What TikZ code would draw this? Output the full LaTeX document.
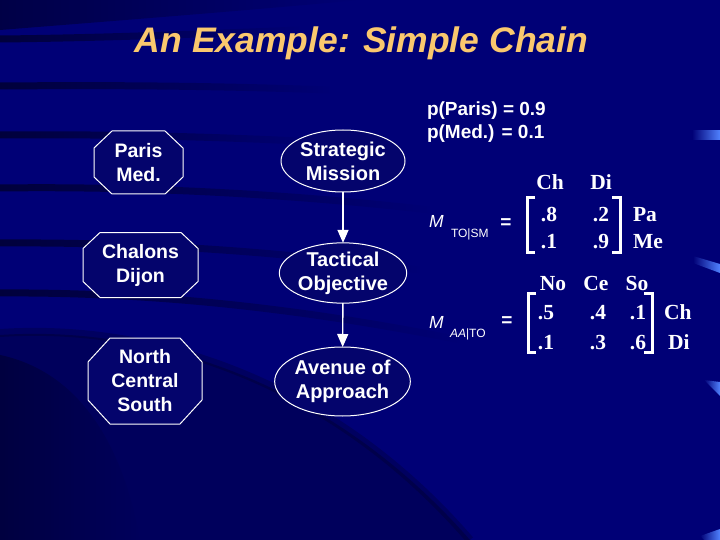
\documentclass[tikz,border=0pt]{standalone}
\usepackage{fontspec}
\newfontfamily\arialf{Liberation Sans}
\newfontfamily\timesf{Liberation Serif}
\usetikzlibrary{arrows.meta,shapes.geometric,fadings,calc}
\definecolor{bgc}{RGB}{0,0,118}
\definecolor{nodefill}{RGB}{4,4,108}
\definecolor{titlec}{RGB}{250,200,110}
\definecolor{streakc}{RGB}{80,130,255}
\pgfdeclarelayer{bglayer}
\pgfdeclarelayer{midlayer}
\pgfsetlayers{bglayer,midlayer,main}
\newcommand\octshape[3]{%
  \draw[octline] ($(#1.north west)+(#2,0)$) -- ($(#1.north east)+(-#2,0)$)
    -- ($(#1.north east)+(0,#3)$) -- ($(#1.south east)+(0,-#3)$)
    -- ($(#1.south east)+(-#2,0)$) -- ($(#1.south west)+(#2,0)$)
    -- ($(#1.south west)+(0,-#3)$) -- ($(#1.north west)+(0,#3)$) -- cycle;}
\begin{document}
\begin{tikzpicture}[x=1pt,y=-1pt,
  every node/.style={inner sep=0pt,outer sep=0pt},
  octn/.style={rectangle,text=white,align=center,font=\arialf\bfseries\fontsize{19.5}{24}\selectfont},
  octline/.style={draw=white,line width=1pt,fill=nodefill},
  ell/.style={ellipse,draw=white,line width=1pt,fill=nodefill,text=white,align=center,font=\arialf\bfseries\fontsize{20}{24}\selectfont},
  arr/.style={draw=white,line width=1.4pt,-{Triangle[width=11pt,length=13pt]}},
  lbl/.style={text=white,font=\arialf\bfseries\fontsize{19}{22}\selectfont,anchor=base west},
  mlbl/.style={text=white,font=\arialf\fontsize{17.5}{20}\selectfont,anchor=base west},
  msub/.style={text=white,font=\arialf\fontsize{12}{14}\selectfont,anchor=base west},
  eqs/.style={text=white,font=\arialf\bfseries\fontsize{19}{20}\selectfont},
  mat/.style={text=white,font=\timesf\bfseries\fontsize{21.5}{24}\selectfont,anchor=base},
  matl/.style={text=white,font=\timesf\bfseries\fontsize{21.5}{24}\selectfont,anchor=base west},
  brk/.style={draw=white,line width=3pt},
  streak/.style={black,line width=7pt,opacity=0.5,path fading=east},
]
\path[use as bounding box] (0,0) rectangle (720,540);
\begin{pgfonlayer}{bglayer}
  \fill[bgc] (0,0) rectangle (720,540);
  % dark swooshes
  \fill[black,opacity=0.4,path fading=east] (0,0) -- (360,0) .. controls (230,12) and (100,22) .. (0,30) -- cycle;
  \draw[streak] (0,39) .. controls (100,38) and (200,34) .. (300,30);
  \draw[streak] (0,86) .. controls (120,85) and (220,86) .. (330,90);
  \draw[streak] (0,135) .. controls (120,134) and (220,137) .. (320,142);
  \draw[streak] (0,188) .. controls (150,186) and (300,195) .. (430,210);
  \draw[streak] (0,243) .. controls (150,242) and (280,252) .. (420,270);
  \draw[streak] (0,293) .. controls (150,292) and (300,308) .. (460,340);
  \fill[black,opacity=0.22] (0,335) .. controls (150,325) and (330,380) .. (470,540) -- (0,540) -- cycle;
  \draw[black,line width=8pt,opacity=0.18] (0,333) .. controls (150,323) and (330,378) .. (470,540);
  \fill[black,opacity=0.3,path fading=east] (0,355) .. controls (70,370) and (120,430) .. (140,540) -- (0,540) -- cycle;
  % light streaks at right edge
  \shade[left color=bgc,right color=streakc] (692,131) rectangle (720,140);
  \shade[left color=bgc,right color=streakc] (693,256) -- (720,264) -- (720,273) -- (693,263) -- cycle;
  \shade[left color=bgc,right color=streakc] (704,380) -- (720,382) -- (720,396) -- cycle;
  \shade[left color=bgc,right color=streakc] (700,536) -- (720,529) -- (720,540) -- (704,540) -- cycle;
\end{pgfonlayer}

% title
\node[text=titlec,font=\arialf\bfseries\itshape\fontsize{35.5}{40}\selectfont,anchor=base] (title) at (361.5,52.5) {An Example: Simple Chain};

% octagon nodes
\node[octn,minimum width=89pt,minimum height=63pt] (pm) at (138.5,162.5) {Paris\\Med.};
\node[octn,minimum width=115pt,minimum height=65pt] (cd) at (140.5,265) {Chalons\\Dijon};
\node[octn,minimum width=114pt,minimum height=86pt] (ncs) at (145,381) {North\\Central\\South};
\begin{pgfonlayer}{midlayer}
  \octshape{pm}{18}{17}
  \octshape{cd}{17}{16}
  \octshape{ncs}{22}{24}
\end{pgfonlayer}

% ellipse nodes
\node[ell,minimum width=124pt,minimum height=62pt] (sm) at (343,161) {Strategic\\Mission};
\node[ell,minimum width=124pt,minimum height=60pt] (to) at (343,273) {Tactical\\Objective};
\node[ell,minimum width=133pt,minimum height=69pt] (aa) at (342.5,381.5) {Avenue of\\Approach};
\draw[arr] (sm) -- (to);
\draw[arr] (to) -- (aa);

% probabilities
\node[lbl] (pparis) at (427,116) {p(Paris) = 0.9};
\node[lbl] (pmed) at (427,139) {p(Med.) = 0.1};

% M_TO|SM
\node[mlbl] (m1) at (429,228) {\itshape M};
\node[msub] (m1s) at (451,237) {TO|SM};
\node[eqs] (eq1) at (506,224) {=};
\node[mat] (h11) at (550,190) {Ch};
\node[mat] (h12) at (601,190) {Di};
\node[mat] (a11) at (549,222) {.8};
\node[mat] (a12) at (601,222) {.2};
\node[mat] (a21) at (549,248) {.1};
\node[mat] (a22) at (601,248) {.9};
\node[matl] (r11) at (633,222) {Pa};
\node[matl] (r12) at (633,248) {Me};
\coordinate (b1lt) at (535,198);
\coordinate (b1lb) at (535,252);
\coordinate (b1rt) at (612,198);
\coordinate (b1rb) at (612,252);
\draw[brk] (b1lt) -| (527,252) -- (b1lb);
\draw[brk] (b1rt) -| (620,252) -- (b1rb);

% M_AA|TO
\node[mlbl] (m2) at (429,328) {\itshape M};
\node[msub] (m2s) at (450,337) {\itshape AA\upshape|TO};
\node[eqs] (eq2) at (507,322) {=};
\node[mat] (h21) at (553,290) {No};
\node[mat] (h22) at (596,290) {Ce};
\node[mat] (h23) at (637,290) {So};
\node[mat] (c11) at (546,319) {.5};
\node[mat] (c12) at (598,319) {.4};
\node[mat] (c13) at (638,319) {.1};
\node[mat] (c21) at (546,349) {.1};
\node[mat] (c22) at (598,349) {.3};
\node[mat] (c23) at (638,349) {.6};
\node[matl] (r21) at (664,319) {Ch};
\node[matl] (r22) at (668,349) {Di};
\coordinate (b2lt) at (536,293);
\coordinate (b2lb) at (536,352);
\coordinate (b2rt) at (644,293);
\coordinate (b2rb) at (644,352);
\draw[brk] (b2lt) -| (528,352) -- (b2lb);
\draw[brk] (b2rt) -| (652,352) -- (b2rb);
\end{tikzpicture}
\end{document}
